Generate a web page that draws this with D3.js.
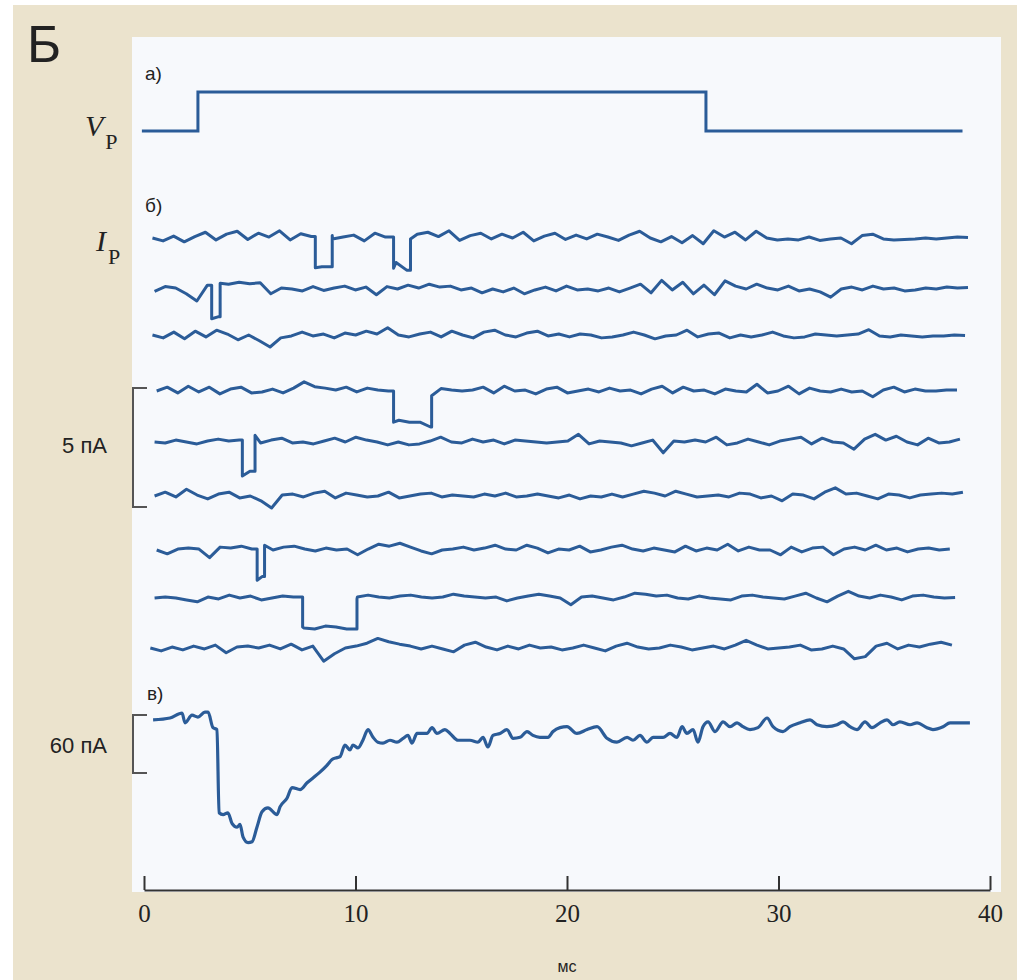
<!DOCTYPE html>
<html>
<head>
<meta charset="utf-8">
<script src="https://cdn.jsdelivr.net/npm/d3@7"></script>
<style>
  body { margin: 0; background: #fff; }
  svg text { font-family: "Liberation Sans", Arial, sans-serif; fill: #222; }
</style>
</head>
<body>
<div id="chart"></div>
<script>
// time axis (ms)
var timeTicks = [0, 10, 20, 30, 40];

// a) command voltage: [t ms, level 0 = rest, 1 = step]
var voltage = [[-0.1, 0], [2.55, 0], [2.55, 1], [26.57, 1], [26.57, 0], [38.7, 0]];

// b) single channel sweeps, pA, evenly sampled from sweep start to sweep end (ms)
var sweepStart = [0.4, 0.5, 0.4, 0.6, 0.5, 0.5, 0.6, 0.5, 0.3];
var sweepEnd = [38.96, 38.96, 38.82, 38.44, 38.58, 38.72, 38.1, 38.35, 38.2];
var sweep1 = [0.00,-0.12,0.08,-0.16,0.06,0.24,-0.08,0.16,0.28,-0.06,0.20,0.04,0.30,-0.08,0.18,0.06,0.10,-0.04,0.04,0.12,-0.12,0.20,0.04,0.28,-0.04,0.16,0.24,0.06,0.30,-0.10,0.10,0.20,-0.04,0.16,0.00,0.24,-0.12,0.08,0.20,-0.06,0.12,-0.04,0.16,0.04,-0.10,0.12,0.28,0.00,-0.16,0.06,-0.20,0.10,-0.24,0.30,0.04,0.24,-0.08,0.28,0.00,-0.08,-0.04,-0.08,0.04,-0.10,-0.04,0.00,-0.24,0.10,0.16,-0.04,-0.08,-0.06,-0.04,0.00,-0.04,0.00,0.04,0.02];
var sweep2 = [-0.10,0.10,0.04,-0.20,-0.50,0.16,0.24,0.20,0.28,0.22,0.26,-0.20,0.04,0.00,-0.08,0.10,-0.06,0.04,0.12,-0.04,0.08,-0.24,0.10,0.00,0.16,0.04,0.20,0.08,0.12,-0.04,0.04,-0.16,0.00,-0.12,0.04,-0.20,-0.04,0.08,-0.08,0.12,-0.04,0.00,-0.08,0.04,-0.12,0.04,0.20,-0.16,0.36,-0.04,0.28,-0.20,0.16,-0.24,0.34,0.12,0.00,0.20,0.04,-0.04,0.12,-0.08,0.00,-0.12,-0.34,0.00,0.08,-0.04,0.12,0.00,0.04,-0.08,-0.04,0.04,0.00,0.08,0.04,0.06];
var sweep3 = [0.00,-0.12,0.12,-0.16,0.16,-0.08,0.20,0.04,-0.20,0.00,-0.24,-0.50,-0.12,-0.04,0.12,-0.04,0.04,-0.12,0.08,0.00,0.16,0.04,0.30,0.00,-0.08,0.04,0.12,-0.08,0.16,0.00,-0.12,0.12,0.20,0.00,-0.08,0.08,0.16,-0.04,0.04,-0.08,0.04,0.00,-0.12,-0.08,0.00,0.12,0.00,-0.16,-0.04,0.00,0.20,-0.08,0.04,0.08,-0.12,0.00,-0.08,0.00,0.12,-0.04,-0.12,-0.08,0.04,0.00,-0.04,0.00,0.04,0.22,-0.04,-0.08,0.00,-0.04,-0.08,-0.04,-0.04,0.00,-0.02];
var sweep4 = [0.00,0.16,-0.08,0.20,-0.04,0.16,-0.12,0.08,0.16,-0.08,-0.04,0.08,-0.08,0.12,0.38,0.18,0.12,0.04,0.16,-0.04,0.12,0.04,0.00,0.08,0.00,0.00,-0.20,0.10,0.04,0.00,0.04,0.16,-0.08,0.20,0.00,0.04,-0.12,0.08,0.16,-0.08,0.00,0.08,-0.04,0.12,0.00,0.04,-0.12,0.08,0.20,-0.08,0.16,0.00,0.04,-0.12,0.08,0.00,-0.04,0.28,-0.08,0.00,0.20,-0.12,0.12,0.00,-0.04,0.08,-0.04,0.00,-0.24,0.04,0.16,-0.04,0.08,0.00,0.00,0.04,0.04];
var sweep5 = [0.00,-0.04,0.08,0.00,-0.08,0.04,0.12,0.04,0.08,0.28,-0.04,0.08,0.16,-0.04,0.00,-0.08,0.04,0.16,0.00,0.20,0.08,0.00,-0.12,0.00,-0.12,-0.08,0.04,0.20,0.00,-0.04,0.12,0.00,0.08,-0.08,0.08,0.04,0.00,-0.04,0.00,0.04,0.32,-0.08,0.04,0.00,-0.04,-0.16,-0.04,0.08,-0.45,0.04,0.00,0.08,0.00,0.20,-0.12,-0.04,0.12,0.00,-0.12,0.04,0.12,0.20,-0.08,0.16,0.00,-0.04,-0.30,0.12,0.32,0.08,0.24,0.00,-0.12,0.16,-0.04,0.00,0.12];
var sweep6 = [0.00,0.16,-0.04,0.28,0.04,-0.12,0.08,0.16,-0.08,0.00,-0.20,-0.50,0.04,0.08,-0.04,0.12,0.20,-0.08,0.12,0.04,-0.04,0.00,0.16,-0.08,0.00,0.08,0.12,-0.04,0.04,0.00,-0.04,0.08,0.00,0.12,-0.04,0.00,0.08,0.00,-0.08,0.04,-0.12,0.00,-0.04,0.08,-0.04,0.08,0.20,0.12,0.00,0.20,0.08,-0.04,0.00,0.04,-0.04,0.12,0.08,-0.08,0.00,-0.20,0.08,0.04,-0.12,0.16,0.34,0.08,0.12,0.00,-0.12,0.08,0.04,-0.08,0.04,0.08,0.12,0.08,0.16];
var sweep7 = [0.00,-0.16,0.04,0.08,0.04,-0.32,0.12,0.08,0.16,0.04,0.20,0.00,0.12,0.16,0.04,-0.04,0.08,0.00,0.04,-0.20,0.04,0.24,0.16,0.28,0.12,-0.04,-0.16,0.00,0.04,0.12,0.00,0.08,0.20,0.04,0.00,0.20,0.08,-0.12,0.04,0.00,0.16,-0.08,0.00,0.12,0.20,0.04,-0.04,0.08,0.00,-0.08,0.16,-0.04,0.08,0.00,0.24,-0.04,0.12,0.00,0.00,-0.20,0.12,-0.08,0.08,0.12,-0.20,0.04,0.12,0.00,0.20,0.00,0.08,-0.08,0.04,0.08,0.00,0.04];
var sweep8 = [0.00,0.04,0.00,-0.08,-0.16,0.04,-0.04,0.12,0.00,0.08,-0.08,0.00,0.08,0.04,0.00,-0.04,0.08,0.04,-0.04,0.04,0.12,0.04,0.00,0.08,0.12,0.04,0.00,0.04,0.16,0.08,0.04,0.00,0.04,-0.12,0.00,0.08,0.16,0.08,0.00,-0.28,0.04,0.08,0.00,-0.08,0.04,0.20,0.16,0.08,0.12,0.00,-0.04,0.08,0.00,-0.04,-0.08,0.08,0.12,0.04,0.00,-0.04,0.08,0.20,0.00,-0.16,0.08,0.28,0.08,0.00,0.12,0.04,-0.08,0.08,0.12,0.04,0.00,0.02];
var sweep9 = [0.00,-0.12,0.04,-0.08,0.08,-0.04,0.12,-0.20,0.04,0.08,0.00,0.12,-0.04,0.16,-0.08,0.08,-0.55,-0.24,0.00,0.08,0.20,0.40,0.26,0.16,0.08,-0.04,0.08,-0.04,-0.16,0.12,0.24,0.04,-0.08,0.08,-0.04,0.12,0.00,0.04,-0.08,0.00,0.12,0.00,-0.12,0.08,0.20,0.04,-0.04,0.00,0.12,0.04,-0.08,0.00,0.08,-0.04,0.12,0.32,0.12,-0.04,0.00,0.04,0.12,-0.08,-0.04,0.08,-0.04,-0.45,-0.36,0.08,0.20,-0.04,0.12,0.04,0.16,0.24,0.12];
var sweeps = [sweep1, sweep2, sweep3, sweep4, sweep5, sweep6, sweep7, sweep8, sweep9];

// channel openings per sweep: [open ms, close ms, amplitude pA]
var openings = [
  [[8.1, 8.9, -1.3], [11.8, 12.6, -1.3]],
  [[3.2, 3.6, -1.4]],
  [],
  [[11.8, 13.6, -1.3]],
  [[4.65, 5.25, -1.5]],
  [],
  [[5.35, 5.7, -1.3]],
  [[7.5, 10.07, -1.25]],
  []
];

// c) ensemble current: [t ms, pA]
var ensemble = [[0.43,-2],[1.23,0],[1.80,5],[1.94,-5],[2.27,3],[2.55,1],[2.88,6],[3.03,6],[3.26,-10],[3.45,-12],[3.55,-98],[3.74,-100],[3.97,-98],[4.16,-109],[4.40,-113],[4.54,-110],[4.68,-123],[4.92,-129],[5.11,-128],[5.34,-113],[5.58,-97],[5.86,-93],[6.29,-100],[6.43,-92],[6.76,-83],[7.00,-72],[7.38,-74],[7.71,-67],[7.99,-62],[8.32,-56],[8.65,-49],[8.89,-43],[9.13,-41],[9.27,-40],[9.50,-28],[9.74,-33],[9.88,-28],[10.12,-31],[10.35,-23],[10.59,-12],[10.83,-20],[11.06,-25],[11.30,-26],[11.63,-23],[11.96,-25],[12.25,-21],[12.48,-18],[12.67,-26],[12.91,-16],[13.38,-16],[13.62,-10],[13.85,-16],[14.23,-12],[14.47,-16],[14.85,-23],[15.41,-23],[15.79,-25],[16.03,-20],[16.26,-30],[16.50,-18],[16.83,-16],[17.16,-12],[17.45,-21],[17.78,-20],[18.11,-14],[18.39,-18],[18.72,-20],[19.10,-20],[19.34,-14],[19.67,-10],[20.0,-9],[20.47,-16],[20.95,-12],[21.42,-9],[21.89,-21],[22.36,-25],[22.84,-20],[23.12,-23],[23.45,-18],[23.78,-25],[24.07,-20],[24.54,-20],[24.87,-16],[25.20,-20],[25.44,-9],[25.67,-16],[25.96,-12],[26.19,-25],[26.43,-9],[26.67,-4],[27.00,-14],[27.38,-4],[27.71,-9],[28.04,-5],[28.32,-9],[28.65,-12],[29.03,-10],[29.46,0],[29.74,-9],[30.21,-14],[30.54,-9],[31.02,-5],[31.49,-2],[31.82,-7],[32.29,-9],[32.77,-7],[33.05,-4],[33.38,-9],[33.71,-12],[34.09,-4],[34.42,-10],[34.80,-5],[35.13,-2],[35.41,-7],[35.74,-4],[36.22,-7],[36.55,-5],[37.02,-10],[37.30,-12],[37.78,-9],[38.11,-5],[38.58,-5],[39.05,-5]];

var width = 1021, height = 980;
var traceColor = "#2b5c98";
var sweepBase = [238, 289, 335, 391, 442, 496, 550, 598, 648];

var svg = d3.select("#chart").append("svg")
    .attr("width", width).attr("height", height);

// background and panel
svg.append("rect").attr("x", 13).attr("y", 5).attr("width", 1004).attr("height", 975).attr("fill", "#ebe3cd");
svg.append("rect").attr("x", 132).attr("y", 37).attr("width", 869).attr("height", 855).attr("fill", "#f7f9fc");

var x = d3.scaleLinear().domain([0, 40]).range([144, 990]);

// panel letter and section labels
svg.append("text").attr("x", 27).attr("y", 62).style("font-size", "52px").text("Б");
svg.append("text").attr("x", 145).attr("y", 80).style("font-size", "19px").text("а)");
svg.append("text").attr("x", 145).attr("y", 212).style("font-size", "19px").text("б)");
svg.append("text").attr("x", 147).attr("y", 700).style("font-size", "19px").text("в)");

// V_P and I_P labels
var serif = "'Liberation Serif', 'Times New Roman', serif";
var vp = svg.append("text").attr("x", 85).attr("y", 136).style("font-family", serif).style("font-size", "30px");
vp.append("tspan").style("font-style", "italic").text("V");
vp.append("tspan").attr("dx", 2).attr("dy", 13).style("font-size", "22px").text("Р");
var ip = svg.append("text").attr("x", 96).attr("y", 251).style("font-family", serif).style("font-size", "30px");
ip.append("tspan").style("font-style", "italic").text("I");
ip.append("tspan").attr("dx", 2).attr("dy", 13).style("font-size", "22px").text("Р");

// a) voltage step
var yV = d3.scaleLinear().domain([0, 1]).range([131, 92]);
svg.append("path").datum(voltage)
    .attr("d", d3.line().x(d => x(d[0])).y(d => yV(d[1])))
    .attr("fill", "none").attr("stroke", traceColor).attr("stroke-width", 3);

// b) single channel sweeps
function sweepPoints(values, t0, t1, events) {
  var dt = (t1 - t0) / (values.length - 1);
  function level(t) {
    var s = 0;
    events.forEach(function(e) { if (t >= e[0] && t < e[1]) s += e[2]; });
    return s;
  }
  var edges = [];
  events.forEach(function(e) { edges.push(e[0], e[1]); });
  edges.sort(d3.ascending);
  var pts = [];
  values.forEach(function(v, i) {
    var t = t0 + i * dt;
    if (i > 0) {
      var tp = t - dt;
      edges.filter(te => te > tp && te <= t).forEach(function(te) {
        pts.push([te, values[i - 1] + level(te - 1e-6)]);
        pts.push([te, values[i - 1] + level(te)]);
      });
    }
    pts.push([t, v + level(t)]);
  });
  return pts;
}

sweeps.forEach(function(values, k) {
  var y = d3.scaleLinear().domain([0, -5]).range([sweepBase[k], sweepBase[k] + 120]);
  svg.append("path").datum(sweepPoints(values, sweepStart[k], sweepEnd[k], openings[k]))
      .attr("d", d3.line().x(d => x(d[0])).y(d => y(d[1])))
      .attr("fill", "none").attr("stroke", traceColor).attr("stroke-width", 3)
      .attr("stroke-linejoin", "round");
});

// c) ensemble average
var yE = d3.scaleLinear().domain([0, -60]).range([718, 776]);
svg.append("path").datum(ensemble)
    .attr("d", d3.line().curve(d3.curveMonotoneX).x(d => x(d[0])).y(d => yE(d[1])))
    .attr("fill", "none").attr("stroke", traceColor).attr("stroke-width", 3.2)
    .attr("stroke-linejoin", "round");

// scale bars
var barColor = "#555";
svg.append("path").attr("d", "M147,388H133V507H147").attr("fill", "none").attr("stroke", barColor).attr("stroke-width", 2);
svg.append("text").attr("x", 107).attr("y", 453).attr("text-anchor", "end").style("font-size", "22px").text("5 пА");
svg.append("path").attr("d", "M147,715H133V773H147").attr("fill", "none").attr("stroke", barColor).attr("stroke-width", 2);
svg.append("text").attr("x", 107).attr("y", 753).attr("text-anchor", "end").style("font-size", "22px").text("60 пА");

// time axis
var axis = svg.append("g").attr("transform", "translate(0,890)")
    .call(d3.axisBottom(x).tickValues(timeTicks).tickSizeInner(-14).tickSizeOuter(0).tickPadding(14));
axis.select(".domain").attr("stroke", "#333").attr("stroke-width", 2);
axis.selectAll(".tick line").attr("stroke", "#333").attr("stroke-width", 2);
axis.selectAll(".tick text")
    .style("font-family", serif)
    .style("font-size", "25px").attr("fill", "#333");
svg.append("text").attr("x", 567).attr("y", 972).attr("text-anchor", "middle").style("font-size", "16px").text("мс");
</script>
</body>
</html>
